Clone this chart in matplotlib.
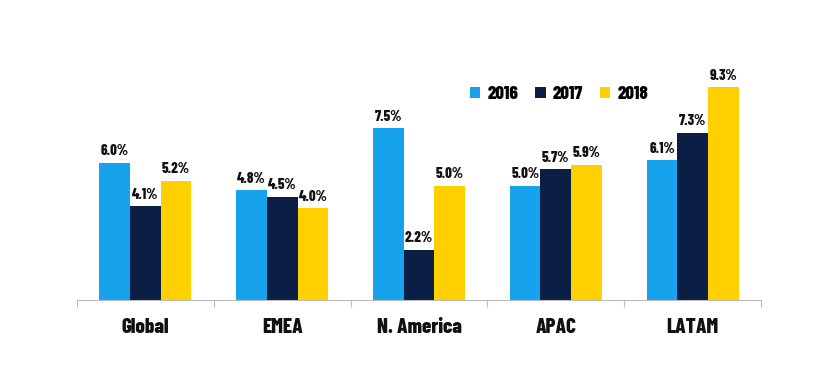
import numpy as np
import matplotlib.pyplot as plt

regions = ['Global', 'EMEA', 'N. America', 'APAC', 'LATAM']
years = ['2016', '2017', '2018']
v2016 = [6.0, 4.8, 7.5, 5.0, 6.1]
v2017 = [4.1, 4.5, 2.2, 5.7, 7.3]
v2018 = [5.2, 4.0, 5.0, 5.9, 9.3]

colors = ['#17A2EE', '#0B1E44', '#FFD000']
font = ['Barlow Condensed', 'DejaVu Sans']

fig = plt.figure(figsize=(8.38, 3.9), dpi=100)
ax = fig.add_axes([0.0919, 0.2308, 0.8162, 0.587])

x = np.arange(len(regions))
w = 0.224
for i, vals in enumerate([v2016, v2017, v2018]):
    bars = ax.bar(x + (i - 1) * w, vals, w, color=colors[i], label=years[i])
    for b, v in zip(bars, vals):
        ax.text(b.get_x() + b.get_width() / 2, v + 0.2, f'{v:.1f}%',
                ha='center', va='bottom', fontsize=10.5, fontweight=800,
                family=font, color='#111111')

ax.set_xlim(-0.5, len(regions) - 0.5)
ax.set_ylim(0, 10)
ax.set_yticks([])
for s in ['top', 'right', 'left']:
    ax.spines[s].set_visible(False)
ax.spines['bottom'].set_color('#BBBBBB')
ax.set_xticks(np.arange(len(regions) + 1) - 0.5)
ax.set_xticklabels([])
ax.tick_params(axis='x', length=5, color='#BBBBBB')
for xi, r in zip(x, regions):
    ax.text(xi, -0.8, r, ha='center', va='top', fontsize=15,
            fontweight=800, family=font, color='#111111')

ax.legend(loc='center', bbox_to_anchor=(0.705, 0.9), ncol=3, frameon=False,
          handlelength=0.55, handleheight=0.55, handletextpad=0.4,
          columnspacing=0.9, prop={'family': font, 'weight': 800, 'size': 13.5})

fig.savefig('out.png', dpi=100, facecolor='white')
